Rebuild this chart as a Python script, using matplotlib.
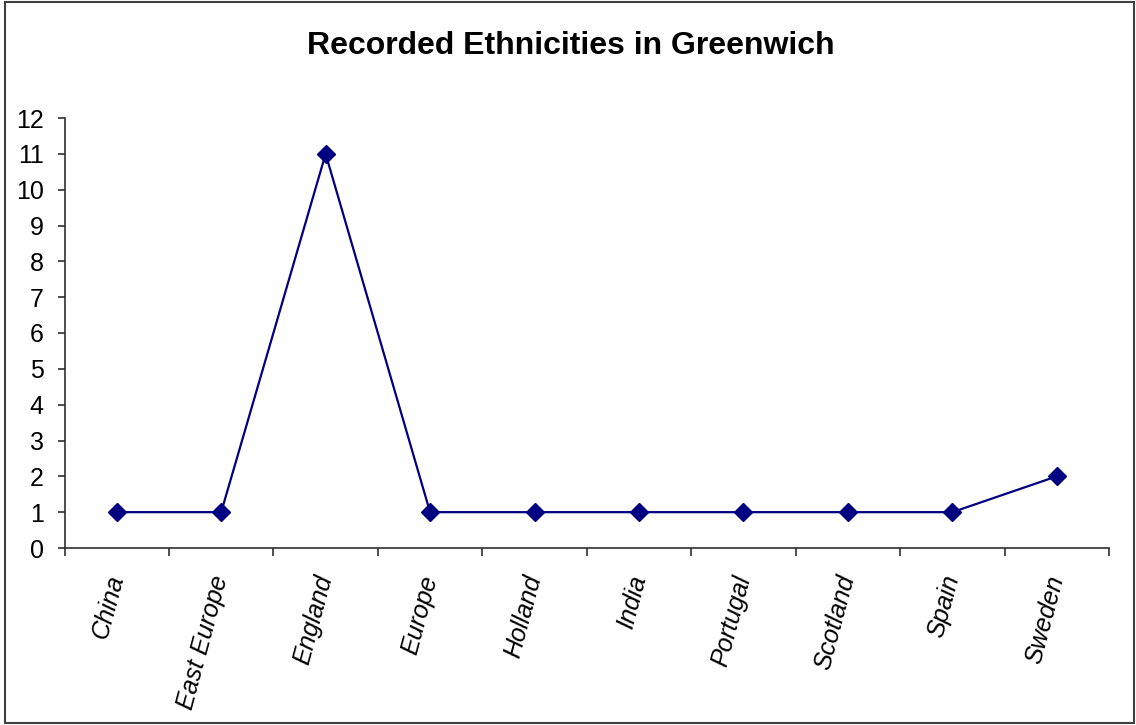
import numpy as np
import matplotlib.pyplot as plt
from matplotlib.patches import Rectangle

plt.rcParams['font.family'] = ['Liberation Sans', 'DejaVu Sans']

# data
countries = ['China', 'East Europe', 'England', 'Europe', 'Holland', 'India',
             'Portugal', 'Scotland', 'Spain', 'Sweden']
counts = [1, 1, 11, 1, 1, 1, 1, 1, 1, 2]
y_ticks = list(range(0, 13))

fig = plt.figure(figsize=(11.36, 7.25), dpi=100)
# outer chart border like the spreadsheet frame
fig.patches.append(Rectangle((5 / 1136, 2 / 725), 1129 / 1136, 721 / 725,
                             transform=fig.transFigure, fill=False,
                             edgecolor='#404040', linewidth=1.5))

ax = fig.add_axes([64.5 / 1136, 1 - 548 / 725, (1109 - 64.5) / 1136, (548 - 118) / 725])
x = np.arange(len(countries))
ax.plot(x, counts, color='#000080', linewidth=1.6, marker='D', markersize=9,
        markerfacecolor='#000080', markeredgecolor='#000080', clip_on=False, zorder=3)

ax.set_xlim(-0.5, len(countries) - 0.5)
ax.set_ylim(0, 12)
ax.set_yticks(y_ticks)
ax.set_yticklabels([str(v) for v in y_ticks], fontsize=18)

# ticks between categories, labels at category centres
ax.set_xticks(np.arange(len(countries) + 1) - 0.5)
ax.set_xticklabels([])
ax.set_xticks(x, minor=True)
ax.set_xticklabels(countries, minor=True, rotation=75, fontsize=18,
                   ha='right', va='center', rotation_mode='anchor', style='italic')
ax.tick_params(axis='x', which='minor', length=0, pad=20)
ax.tick_params(axis='x', which='major', length=6, width=1.2, color='#303030')
ax.tick_params(axis='y', length=5, width=1.2, pad=10, color='#303030')

for side in ['top', 'right']:
    ax.spines[side].set_visible(False)
for side in ['left', 'bottom']:
    ax.spines[side].set_linewidth(1.2)
    ax.spines[side].set_color('#303030')

fig.text(571 / 1136, 1 - 46 / 725, 'Recorded Ethnicities in Greenwich',
         ha='center', va='center', fontsize=23, fontweight='bold')

fig.savefig('out.png', dpi=100)
